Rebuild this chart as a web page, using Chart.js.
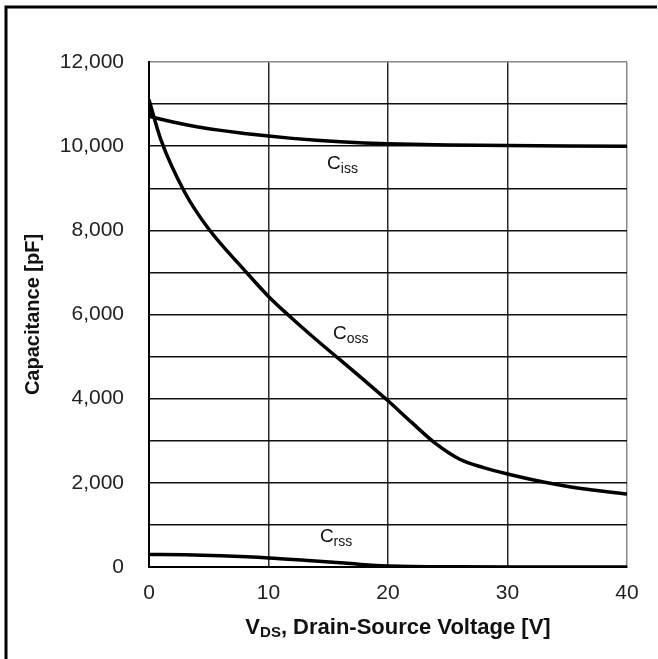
<!DOCTYPE html>
<html lang="en">
<head>
    <meta charset="UTF-8">
    <title>Capacitance vs VDS</title>
    <script src="https://cdn.jsdelivr.net/npm/chart.js"></script>
    <style>
        html, body { margin: 0; padding: 0; background: #fff; }
        #wrap { width: 658px; height: 659px; position: relative; }
    </style>
</head>
<body>
<div id="wrap"><canvas id="capChart" width="658" height="659"></canvas></div>

<script>
    // curves (V, pF)
    const vCiss = [0, 0.15, 0.5, 1, 2, 3, 4, 5, 6, 8, 10, 12, 14, 16, 18, 20, 25, 30, 35, 40];
    const ciss  = [11100, 10700, 10675, 10640, 10575, 10515, 10460, 10415, 10375, 10300, 10240, 10185, 10140, 10105, 10075, 10055, 10030, 10015, 10005, 10000];

    const vCoss = [0, 1, 3, 5, 8, 10, 12, 14, 16, 18, 20, 22, 24, 26, 28, 30, 33, 36, 40];
    const coss  = [11100, 10150, 8900, 8030, 7050, 6430, 5900, 5400, 4920, 4440, 3950, 3430, 2930, 2560, 2360, 2210, 2020, 1870, 1735];

    const vCrss = [0, 3, 6, 10, 13, 16, 18, 20, 22, 25, 30, 40];
    const crss  = [300, 290, 265, 215, 160, 100, 55, 25, 10, 5, 0, 0];

    // curve names, drawn as C + subscript next to each line
    const curveSubs = ['iss', 'oss', 'rss'];
    const labelV = [14.9, 15.4, 14.3];
    const labelC = [9620, 5580, 760];

    const xTicks = [0, 10, 20, 30, 40];
    const yMax = 12000;

    function pts(xs, ys) {
        return xs.map((x, i) => ({ x: x, y: ys[i] }));
    }

    function curve(data, smooth) {
        return {
            data: data,
            borderColor: '#000',
            borderWidth: 3.5,
            borderJoinStyle: 'round',
            pointRadius: 0,
            showLine: true,
            fill: false,
            tension: 0,
            cubicInterpolationMode: smooth ? 'monotone' : 'default'
        };
    }

    const extras = {
        id: 'extras',
        beforeDraw(chart) {
            const c = chart.ctx;
            c.save();
            c.fillStyle = '#fff';
            c.fillRect(0, 0, chart.width, chart.height);
            // outer frame
            c.strokeStyle = '#000';
            c.lineWidth = 3;
            c.beginPath();
            c.moveTo(6, 659);
            c.lineTo(6, 7);
            c.lineTo(657, 7);
            c.stroke();
            c.restore();
        },
        afterDraw(chart) {
            const c = chart.ctx;
            const xs = chart.scales.x, ys = chart.scales.y;
            c.save();
            c.fillStyle = '#111';
            c.textBaseline = 'alphabetic';
            c.textAlign = 'left';

            // curve labels
            for (let i = 0; i < curveSubs.length; i++) {
                const px = xs.getPixelForValue(labelV[i]);
                const py = ys.getPixelForValue(labelC[i]) + 7;
                c.font = '19px "Liberation Sans", Arial, sans-serif';
                c.fillText('C', px, py);
                const w = c.measureText('C').width;
                c.font = '14px "Liberation Sans", Arial, sans-serif';
                c.fillText(curveSubs[i], px + w, py + 4);
            }

            // x title with subscript
            const big = 'bold 22px "Liberation Sans", Arial, sans-serif';
            const small = 'bold 15px "Liberation Sans", Arial, sans-serif';
            const rest = ', Drain-Source Voltage [V]';
            c.font = big;
            const wV = c.measureText('V').width;
            const wRest = c.measureText(rest).width;
            c.font = small;
            const wDS = c.measureText('DS').width;
            let x0 = 398 - (wV + wDS + wRest) / 2;
            const base = 634;
            c.font = big;
            c.fillText('V', x0, base);
            c.font = small;
            c.fillText('DS', x0 + wV, base + 3);
            c.font = big;
            c.fillText(rest, x0 + wV + wDS, base);

            // y title
            c.translate(33, (ys.top + ys.bottom) / 2);
            c.rotate(-Math.PI / 2);
            c.textAlign = 'center';
            c.textBaseline = 'middle';
            c.font = 'bold 20px "Liberation Sans", Arial, sans-serif';
            c.fillText('Capacitance [pF]', 0, 0);
            c.restore();
        }
    };

    new Chart(document.getElementById('capChart'), {
        type: 'scatter',
        data: {
            datasets: [
                curve(pts(vCiss, ciss), false),
                curve(pts(vCoss, coss), true),
                curve(pts(vCrss, crss), true)
            ]
        },
        options: {
            responsive: false,
            animation: false,
            layout: { padding: { left: 0, top: 62, right: 31, bottom: 0 } },
            plugins: { legend: { display: false }, tooltip: { enabled: false } },
            scales: {
                x: {
                    type: 'linear',
                    min: 0,
                    max: 40,
                    afterBuildTicks: s => { s.ticks = xTicks.map(v => ({ value: v })); },
                    afterFit: s => { s.height = 92; },
                    ticks: {
                        color: '#222',
                        padding: 14,
                        maxRotation: 0,
                        font: { family: '"Liberation Sans", Arial, sans-serif', size: 21 }
                    },
                    grid: {
                        drawTicks: false,
                        lineWidth: 1.5,
                        color: ctx => ctx.tick && ctx.tick.value === 40 ? '#888' : '#2a2a2a'
                    },
                    border: { color: '#000', width: 2 }
                },
                y: {
                    min: 0,
                    max: yMax,
                    afterFit: s => { s.width = 149; },
                    ticks: {
                        stepSize: 1000,
                        color: '#222',
                        padding: 25,
                        font: { family: '"Liberation Sans", Arial, sans-serif', size: 21 },
                        callback: v => v % 2000 === 0 ? v.toLocaleString('en-US') : ''
                    },
                    grid: {
                        drawTicks: false,
                        lineWidth: 1.5,
                        color: ctx => ctx.tick && ctx.tick.value === yMax ? '#888' : '#111'
                    },
                    border: { color: '#000', width: 2 }
                }
            }
        },
        plugins: [extras]
    });
</script>
</body>
</html>
